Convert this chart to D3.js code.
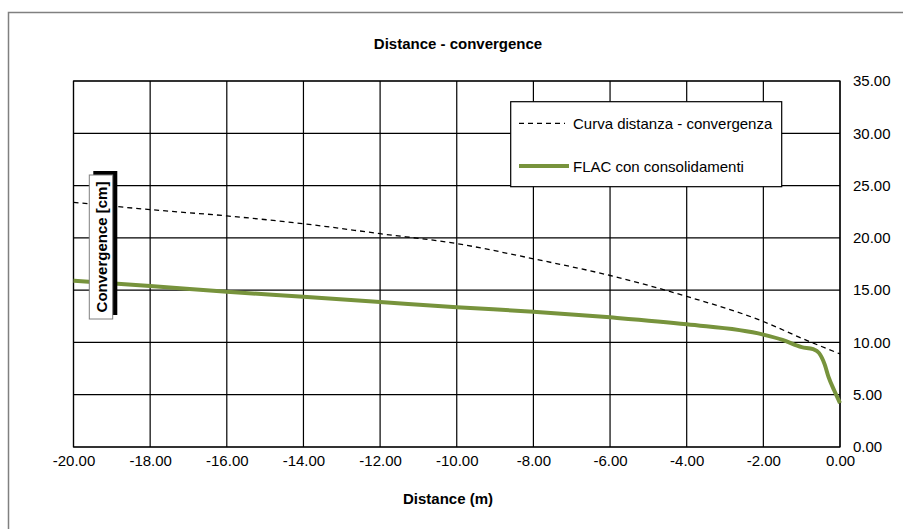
<!DOCTYPE html>
<html>
<head>
<meta charset="utf-8">
<script src="https://cdn.jsdelivr.net/npm/d3@7"></script>
<style>
  html, body { margin: 0; padding: 0; background: #fff; }
  svg { display: block; font-family: "Liberation Sans", Arial, sans-serif; }
</style>
</head>
<body>
<svg id="chart" width="903" height="529"></svg>
<script>
// ---- Data ----
const xTicks = [-20, -18, -16, -14, -12, -10, -8, -6, -4, -2, 0];
const yTicks = [0, 5, 10, 15, 20, 25, 30, 35];

const curvaX = [-20, -18, -16, -14, -12, -10, -8, -6, -4, -2, -1, 0];
const curvaY = [23.4, 22.7, 22.1, 21.35, 20.4, 19.45, 18.0, 16.4, 14.4, 12.0, 10.4, 8.9];

const flacX = [-20, -18, -16, -14, -12, -10, -8, -6, -4, -2, -1.5, -1.0, -0.7, -0.55, -0.4, -0.3, -0.15, 0];
const flacY = [15.9, 15.4, 14.85, 14.37, 13.87, 13.36, 12.94, 12.4, 11.73, 10.75, 10.25, 9.55, 9.35, 9.0, 7.9, 6.7, 5.4, 4.2];

const seriesNames = ["Curva distanza - convergenza", "FLAC con consolidamenti"];
const chartTitle = "Distance - convergence";
const xTitle = "Distance (m)";
const yTitle = "Convergence [cm]";

// ---- Layout ----
const svg = d3.select("#chart");
const L = 73.5, R = 840, T = 81, B = 447;
const x = d3.scaleLinear().domain([-20, 0]).range([L, R]);
const y = d3.scaleLinear().domain([0, 35]).range([B, T]);
const green = "#77933C";
const fmt = d => (Math.abs(d) < 1e-9 ? 0 : d).toFixed(2);

// outer chart border
svg.append("rect").attr("x", 8.5).attr("y", 12.5).attr("width", 910).attr("height", 540)
  .attr("fill", "#fff").attr("stroke", "#808080").attr("stroke-width", 1.5);

// title
svg.append("text").attr("x", 458).attr("y", 49).attr("text-anchor", "middle")
  .attr("font-size", 15).attr("font-weight", "bold").text(chartTitle);

// gridlines
const grid = svg.append("g");
grid.selectAll("line.v").data(xTicks).join("line")
  .attr("x1", d => x(d)).attr("x2", d => x(d)).attr("y1", T).attr("y2", B)
  .attr("stroke", "#000").attr("stroke-width", 1.2);
grid.selectAll("line.h").data(yTicks).join("line")
  .attr("x1", L).attr("x2", R).attr("y1", d => y(d)).attr("y2", d => y(d))
  .attr("stroke", "#000").attr("stroke-width", 1.2);
svg.append("rect").attr("x", L).attr("y", T).attr("width", R - L).attr("height", B - T)
  .attr("fill", "none").attr("stroke", "#000").attr("stroke-width", 1.2);

// axes (labels only, via d3 axes)
const xAxis = d3.axisBottom(x).tickValues(xTicks).tickFormat(fmt).tickSize(0).tickPadding(8);
const gx = svg.append("g").attr("transform", `translate(0,${B})`).call(xAxis);
gx.select(".domain").remove();
gx.selectAll("text").attr("font-size", 15).attr("font-family", "Liberation Sans, Arial, sans-serif").attr("fill", "#000");

const yAxis = d3.axisRight(y).tickValues(yTicks).tickFormat(fmt).tickSize(0).tickPadding(13);
const gy = svg.append("g").attr("transform", `translate(${R},0)`).call(yAxis);
gy.select(".domain").remove();
gy.selectAll("text").attr("font-size", 15).attr("font-family", "Liberation Sans, Arial, sans-serif").attr("fill", "#000");

// x title
svg.append("text").attr("x", 448).attr("y", 504).attr("text-anchor", "middle")
  .attr("font-size", 15).attr("font-weight", "bold").text(xTitle);

// series
const line = d3.line().x(d => x(d[0])).y(d => y(d[1])).curve(d3.curveMonotoneX);
svg.append("path").datum(d3.zip(curvaX, curvaY)).attr("d", line)
  .attr("fill", "none").attr("stroke", "#000").attr("stroke-width", 1.3)
  .attr("stroke-dasharray", "5,4");
svg.append("path").datum(d3.zip(flacX, flacY)).attr("d", line)
  .attr("fill", "none").attr("stroke", green).attr("stroke-width", 4)
  .attr("stroke-linejoin", "round");

// y title box with shadow
svg.append("rect").attr("x", 93.3).attr("y", 171).attr("width", 24).attr("height", 144).attr("fill", "#000");
svg.append("rect").attr("x", 89.3).attr("y", 175).attr("width", 23.4).attr("height", 144)
  .attr("fill", "#fff").attr("stroke", "#808080").attr("stroke-width", 1);
svg.append("text").attr("transform", "translate(101.5,247) rotate(-90)")
  .attr("text-anchor", "middle").attr("dominant-baseline", "central")
  .attr("font-size", 15).attr("font-weight", "bold").text(yTitle);

// legend
const lg = svg.append("g");
lg.append("rect").attr("x", 510.7).attr("y", 101.7).attr("width", 271).attr("height", 85)
  .attr("fill", "#fff").attr("stroke", "#000").attr("stroke-width", 1.2);
const legY = [123.3, 166];
lg.append("line").attr("x1", 519).attr("x2", 565).attr("y1", legY[0]).attr("y2", legY[0])
  .attr("stroke", "#000").attr("stroke-width", 1.3).attr("stroke-dasharray", "5,4");
lg.append("line").attr("x1", 519).attr("x2", 569).attr("y1", legY[1]).attr("y2", legY[1])
  .attr("stroke", green).attr("stroke-width", 4);
lg.selectAll("text").data(seriesNames).join("text")
  .attr("x", 573).attr("y", (d, i) => legY[i]).attr("dominant-baseline", "central")
  .attr("font-size", 15).text(d => d);
</script>
</body>
</html>
